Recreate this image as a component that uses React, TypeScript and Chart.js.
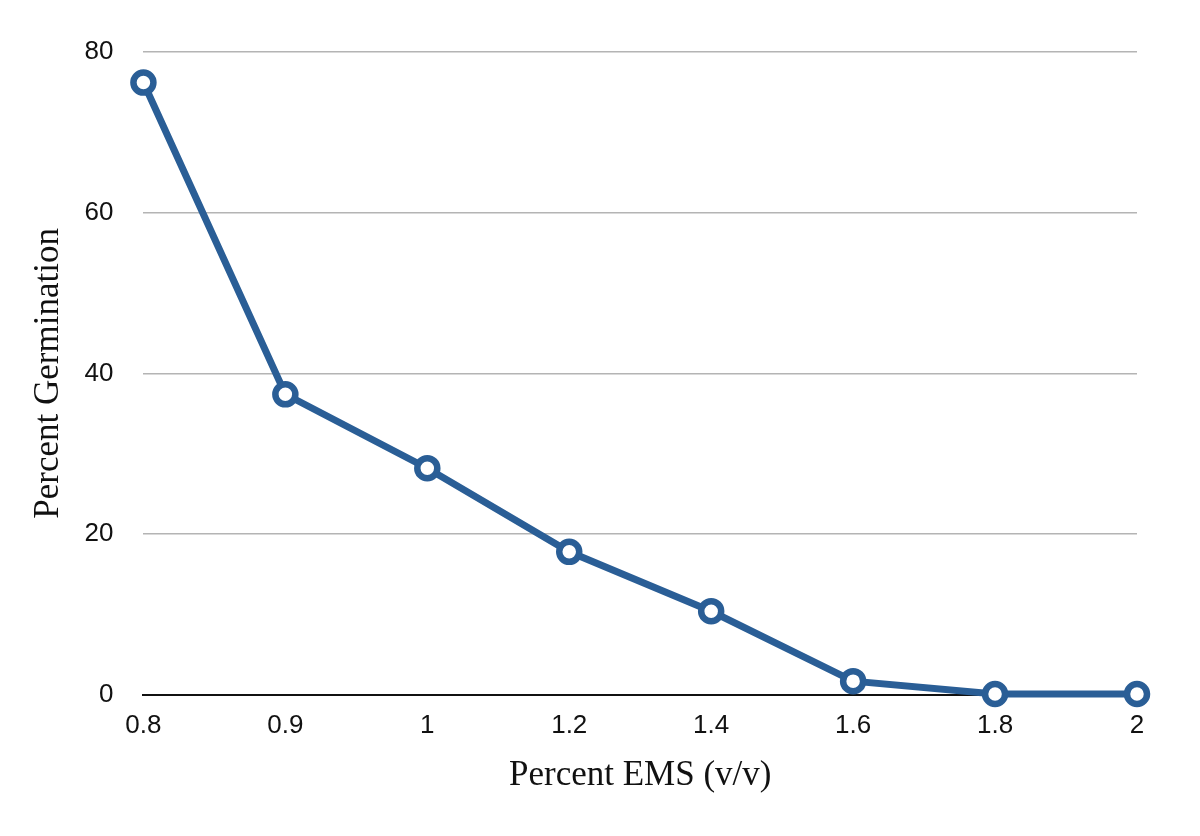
import React, { useEffect, useRef } from "react";
import { Chart, registerables } from "chart.js";

Chart.register(...registerables);

const categories = ["0.8", "0.9", "1", "1.2", "1.4", "1.6", "1.8", "2"];
const germination = [76.2, 37.4, 28.2, 17.8, 10.4, 1.7, 0.1, 0.1];
const yTicks = [0, 20, 40, 60, 80];

export default function App() {
  const ref = useRef<HTMLCanvasElement | null>(null);
  useEffect(() => {
    if (!ref.current) return;
    const chart = new Chart(ref.current, {
      type: "line",
      data: {
        labels: categories,
        datasets: [
          {
            data: germination,
            borderColor: "#2A5E96",
            borderWidth: 7,
            pointRadius: 10,
            pointBorderWidth: 6.5,
            pointBackgroundColor: "#ffffff",
            pointBorderColor: "#2A5E96",
            tension: 0,
            clip: false as any,
          },
        ],
      },
      options: {
        animation: false,
        responsive: false,
        maintainAspectRatio: false,
        layout: { padding: { left: 44, right: 63, top: 52, bottom: 43 } },
        plugins: { legend: { display: false }, tooltip: { enabled: false } },
        scales: {
          x: {
            type: "category",
            offset: false,
            grid: { display: false, drawTicks: false },
            border: { display: true, color: "#111111", width: 2 },
            ticks: {
              color: "#111111",
              font: { family: "Liberation Sans", size: 26 },
              padding: 15,
              maxRotation: 0,
            },
            title: {
              display: true,
              text: "Percent EMS (v/v)",
              color: "#111111",
              font: { family: "Liberation Serif", size: 35, lineHeight: 1 },
              padding: { top: 2, bottom: 0 },
            },
          },
          y: {
            min: 0,
            max: 80,
            afterBuildTicks: (axis: any) => {
              axis.ticks = yTicks.map((v) => ({ value: v }));
            },
            grid: {
              drawTicks: false,
              color: (ctx: any) => (ctx.tick && ctx.tick.value === 0 ? "rgba(0,0,0,0)" : "#b4b4b4"),
              lineWidth: 1.5,
            },
            border: { display: false },
            ticks: {
              color: "#111111",
              font: { family: "Liberation Sans", size: 26 },
              padding: 30,
            },
            title: {
              display: true,
              text: "Percent Germination",
              color: "#111111",
              font: { family: "Liberation Serif", size: 35, lineHeight: 0.3 },
              padding: { top: 0, bottom: 0 },
            },
          },
        },
      },
    });
    return () => chart.destroy();
  }, []);
  return (
    <div style={{ position: "fixed", left: 0, top: 0, width: 1200, height: 836, background: "#fff" }}>
      <canvas ref={ref} width={1200} height={836} style={{ width: 1200, height: 836 }} />
    </div>
  );
}
